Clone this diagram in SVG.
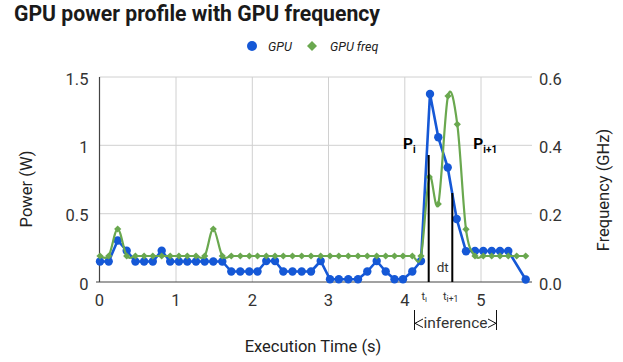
<svg xmlns="http://www.w3.org/2000/svg" xmlns:xlink="http://www.w3.org/1999/xlink" width="623" height="362" viewBox="0 0 623 362">
<style>
text{font-family:Roboto,"Liberation Sans",Arial,sans-serif}
.title{font-size:21.2px;font-weight:bold;fill:#1a1a1a}
.leg{font-size:12.5px;font-style:italic;fill:#222}
.tick{font-size:16.5px;fill:#333}
.axt{font-size:16.5px;fill:#222}
.grid{stroke:#d0d0d0;stroke-width:1;fill:none}
.axis{stroke:#444;stroke-width:1.2;fill:none}
.blue{stroke:#1558d6;stroke-width:2.6;fill:none;stroke-linejoin:round}
.green{stroke:#6aa84f;stroke-width:2.2;fill:none;stroke-linejoin:round}
.bm{fill:#1558d6}
.gm{fill:#6aa84f}
.ann{stroke:#000;stroke-width:2;fill:none}
.thin{stroke:#111;stroke-width:1;fill:none}
.lab{fill:#000;font-weight:bold}
</style>
<defs>
<circle id="bm" r="4.2" class="bm"/>
<path id="gm" d="M0,-3.6 L3.6,0 0,3.6 -3.6,0Z" class="gm"/>
</defs>
<text class="title" x="14" y="20.5">GPU power profile with GPU frequency</text>
<g id="legend">
<circle cx="252" cy="46" r="5" class="bm"/>
<text class="leg" x="268" y="50.5">GPU</text>
<path d="M312,41 L317,46 312,51 307,46Z" class="gm"/>
<text class="leg" x="330" y="50.5">GPU freq</text>
</g>
<g id="grid">
<path class="grid" d="M99.5,77H532M99.5,145.3H532M99.5,213.7H532M176,77V282M252.3,77V282M328.5,77V282M404.8,77V282M481,77V282"/>
<path class="axis" d="M99.5,77V282M96,282H532"/>
</g>
<g id="left-ticks" class="tick" text-anchor="end">
<text x="88.5" y="85">1.5</text>
<text x="88.5" y="153">1</text>
<text x="88.5" y="221">0.5</text>
<text x="88.5" y="289.5">0</text>
</g>
<g id="right-ticks" class="tick">
<text x="539" y="85">0.6</text>
<text x="539" y="153">0.4</text>
<text x="539" y="221">0.2</text>
<text x="539" y="289.5">0.0</text>
</g>
<g id="x-ticks" class="tick" text-anchor="middle">
<text x="99.5" y="306">0</text>
<text x="176" y="306">1</text>
<text x="252.3" y="306">2</text>
<text x="328.5" y="306">3</text>
<text x="404.8" y="306">4</text>
<text x="481" y="306">5</text>
</g>
<text class="axt" text-anchor="middle" transform="translate(31.5,189) rotate(-90)">Power (W)</text>
<text class="axt" text-anchor="middle" transform="translate(608.5,190) rotate(-90)">Frequency (GHz)</text>
<text class="axt" text-anchor="middle" x="313" y="352">Execution Time (s)</text>
<g id="connectors">
<g id="gpu-series">
<polyline class="blue" points="100,261.5 108.7,261.5 117.7,240.5 126.7,250.7 135.4,261.5 144.1,261.5 152.8,261.5 161.7,250.7 170.2,261.5 178.9,261.5 187.3,261.5 196,261.5 204.7,261.5 213.3,261.5 222.3,261.5 231.3,271.5 240.3,271.5 249.3,271.5 257.5,271.5 266.3,261 275,261 283.3,271.5 292.5,271.5 301.7,271.5 311,271.5 320.7,261 330,279.3 338.8,279.3 348.3,279.3 358,279.3 367.3,271.5 376.7,261 385.7,271.5 394.5,279.3 403,279.3 412.3,271.5 421,261 430,94 438.3,137.3 447.7,167.5 456.7,219 466,251.3 475,251 483.3,251 491.7,251 500,251 508.3,251 525.7,279.5"/>
<use href="#bm" x="100" y="261.5"/><use href="#bm" x="108.7" y="261.5"/><use href="#bm" x="117.7" y="240.5"/><use href="#bm" x="126.7" y="250.7"/><use href="#bm" x="135.4" y="261.5"/><use href="#bm" x="144.1" y="261.5"/><use href="#bm" x="152.8" y="261.5"/><use href="#bm" x="161.7" y="250.7"/><use href="#bm" x="170.2" y="261.5"/><use href="#bm" x="178.9" y="261.5"/><use href="#bm" x="187.3" y="261.5"/><use href="#bm" x="196" y="261.5"/><use href="#bm" x="204.7" y="261.5"/><use href="#bm" x="213.3" y="261.5"/><use href="#bm" x="222.3" y="261.5"/><use href="#bm" x="231.3" y="271.5"/><use href="#bm" x="240.3" y="271.5"/><use href="#bm" x="249.3" y="271.5"/><use href="#bm" x="257.5" y="271.5"/><use href="#bm" x="266.3" y="261"/><use href="#bm" x="275" y="261"/><use href="#bm" x="283.3" y="271.5"/><use href="#bm" x="292.5" y="271.5"/><use href="#bm" x="301.7" y="271.5"/><use href="#bm" x="311" y="271.5"/><use href="#bm" x="320.7" y="261"/><use href="#bm" x="330" y="279.3"/><use href="#bm" x="338.8" y="279.3"/><use href="#bm" x="348.3" y="279.3"/><use href="#bm" x="358" y="279.3"/><use href="#bm" x="367.3" y="271.5"/><use href="#bm" x="376.7" y="261"/><use href="#bm" x="385.7" y="271.5"/><use href="#bm" x="394.5" y="279.3"/><use href="#bm" x="403" y="279.3"/><use href="#bm" x="412.3" y="271.5"/><use href="#bm" x="421" y="261"/><use href="#bm" x="430" y="94"/><use href="#bm" x="438.3" y="137.3"/><use href="#bm" x="447.7" y="167.5"/><use href="#bm" x="456.7" y="219"/><use href="#bm" x="466" y="251.3"/><use href="#bm" x="475" y="251"/><use href="#bm" x="483.3" y="251"/><use href="#bm" x="491.7" y="251"/><use href="#bm" x="500" y="251"/><use href="#bm" x="508.3" y="251"/><use href="#bm" x="525.7" y="279.5"/>
</g>
<g id="freq-series">
<path class="green" d="M100,256 C101.45,256 105.75,260.5 108.7,256 C111.65,251.5 114.7,229 117.7,229 C120.7,229 123.75,251.5 126.7,256 C129.65,260.5 132.5,256 135.4,256 L196,256 C198.9,256 201.8,260.5 204.7,256 C207.6,251.5 210.37,229 213.3,229 C216.23,229 219.3,251.5 222.3,256 C225.3,260.5 228.3,256 231.3,256 L412.3,256 C415.3,256 418.17,269.17 421,256 C423.83,242.83 426.42,185.67 429.3,177 C432.18,168.33 435.18,217.5 438.3,204 C441.42,190.5 444.83,109.28 448,96 C451.17,82.72 454.3,102.08 457.3,124.3 C460.3,146.5 463.05,207.35 466,229.3 C468.95,251.25 472.12,251.55 475,256 C477.88,260.45 480.52,256 483.3,256 L525.7,256"/>
<use href="#gm" x="100" y="256"/><use href="#gm" x="108.7" y="256"/><use href="#gm" x="117.7" y="229"/><use href="#gm" x="126.7" y="256"/><use href="#gm" x="135.4" y="256"/><use href="#gm" x="144.1" y="256"/><use href="#gm" x="152.8" y="256"/><use href="#gm" x="161.7" y="256"/><use href="#gm" x="170.2" y="256"/><use href="#gm" x="178.9" y="256"/><use href="#gm" x="187.3" y="256"/><use href="#gm" x="196" y="256"/><use href="#gm" x="204.7" y="256"/><use href="#gm" x="213.3" y="229"/><use href="#gm" x="222.3" y="256"/><use href="#gm" x="231.3" y="256"/><use href="#gm" x="240.3" y="256"/><use href="#gm" x="249.3" y="256"/><use href="#gm" x="257.5" y="256"/><use href="#gm" x="266.3" y="256"/><use href="#gm" x="275" y="256"/><use href="#gm" x="283.3" y="256"/><use href="#gm" x="292.5" y="256"/><use href="#gm" x="301.7" y="256"/><use href="#gm" x="311" y="256"/><use href="#gm" x="320.7" y="256"/><use href="#gm" x="330" y="256"/><use href="#gm" x="338.8" y="256"/><use href="#gm" x="348.3" y="256"/><use href="#gm" x="358" y="256"/><use href="#gm" x="367.3" y="256"/><use href="#gm" x="376.7" y="256"/><use href="#gm" x="385.7" y="256"/><use href="#gm" x="394.5" y="256"/><use href="#gm" x="403" y="256"/><use href="#gm" x="412.3" y="256"/><use href="#gm" x="421" y="256"/><use href="#gm" x="429.3" y="177"/><use href="#gm" x="438.3" y="204"/><use href="#gm" x="448" y="96"/><use href="#gm" x="457.3" y="124.3"/><use href="#gm" x="466" y="229.3"/><use href="#gm" x="475" y="256"/><use href="#gm" x="483.3" y="256"/><use href="#gm" x="491.7" y="256"/><use href="#gm" x="500" y="256"/><use href="#gm" x="508.3" y="256"/><use href="#gm" x="516.7" y="256"/><use href="#gm" x="525.7" y="256"/>
</g>
<path class="ann" d="M428.7,155V282M452.3,193V282"/>
<path class="thin" d="M414.5,310V330M496.5,310V330M423,319L415,323.3 423,327.5M488,319L496,323.3 488,327.5"/>
</g>
<g id="annotations">
<text class="lab" x="403" y="149.3" font-size="15.5">P<tspan font-size="10" dy="3.5">i</tspan></text>
<text class="lab" x="473.3" y="149.3" font-size="15.5">P<tspan font-size="10" dy="3.5">i+1</tspan></text>
<text class="tick" x="421.5" y="300" style="font-size:11px">t<tspan style="font-size:8px" dy="2">i</tspan></text>
<text class="tick" x="443" y="300" style="font-size:11px">t<tspan style="font-size:8.5px" dy="2">i+1</tspan></text>
<text class="tick" x="436.7" y="272" style="font-size:13.5px">dt</text>
<text class="tick" x="455.5" y="328" text-anchor="middle" style="font-size:15.5px">inference</text>
</g>
</svg>
